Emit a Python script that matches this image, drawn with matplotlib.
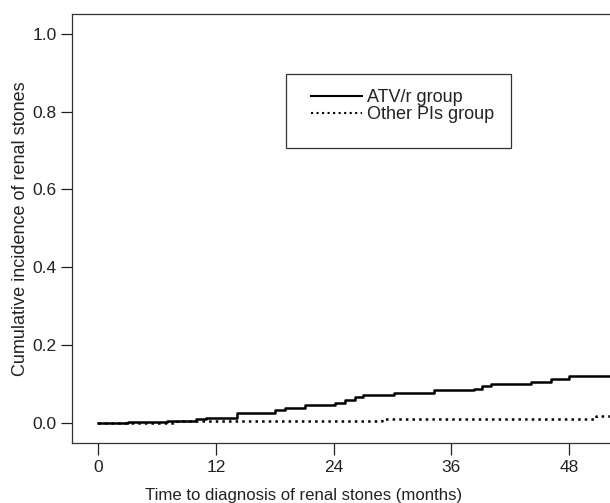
import matplotlib
matplotlib.use("Agg")
import matplotlib.pyplot as plt
from matplotlib.patches import Rectangle

plt.rcParams['font.family'] = ['Liberation Sans', 'DejaVu Sans']

# step points (months, cumulative incidence)
atv_t = [0, 3, 7, 10, 11, 14.1, 18, 19, 21.1, 24.1, 25.2, 26.2, 27, 30.1,
         34.2, 38.3, 39.1, 40, 44.1, 46.1, 48, 53]
atv_y = [0, 0.002, 0.004, 0.008, 0.012, 0.024, 0.031, 0.037, 0.044, 0.050,
         0.057, 0.067, 0.071, 0.0755, 0.0825, 0.0876, 0.0936, 0.098, 0.104,
         0.111, 0.119, 0.119]
oth_t = [0, 8, 28.9, 50.7, 53]
oth_y = [0, 0.003, 0.0095, 0.018, 0.018]

xticks = [0, 12, 24, 36, 48]
yticks = [0.0, 0.2, 0.4, 0.6, 0.8, 1.0]

ink = '#222222'

fig = plt.figure(figsize=(6.1, 5.03), dpi=100)
ax = fig.add_axes([0.1175, 0.119, 0.8825, 0.853])

ax.step(atv_t, atv_y, where='post', color='black', lw=1.8, label='ATV/r group')
ax.step(oth_t, oth_y, where='post', color='black', lw=1.8, ls=':',
        label='Other PIs group')

ax.set_xlim(-2.71, 52.16)
ax.set_ylim(-0.053, 1.051)
ax.set_xticks(xticks)
ax.set_yticks(yticks)
ax.set_yticklabels(['%.1f' % v for v in yticks])
ax.tick_params(axis='both', direction='out', labelsize=12.5, colors=ink)
ax.tick_params(axis='x', length=8.6, width=0.9, pad=3.6)
ax.tick_params(axis='y', length=8, width=0.9, pad=2.9)

for s in ['left', 'bottom', 'top']:
    ax.spines[s].set_color('#333333')
    ax.spines[s].set_linewidth(0.9)
ax.spines['right'].set_visible(False)

ax.set_xlabel('Time to diagnosis of renal stones (months)', fontsize=12.1,
              color=ink, labelpad=9)
ax.xaxis.label.set_x(0.431)
ax.set_ylabel('Cumulative incidence of renal stones', fontsize=13,
              color=ink, labelpad=2.4)

# legend box drawn separately so its padding matches the original
ax.add_patch(Rectangle((0.398, 0.689), 0.418, 0.171, transform=ax.transAxes,
                       fill=False, edgecolor='#333333', lw=0.9))
leg = ax.legend(loc='upper left', bbox_to_anchor=(0.444, 0.825), fontsize=13,
                frameon=False, handlelength=2.85, handletextpad=0.25,
                borderpad=0, labelspacing=0.0, borderaxespad=0)
for t in leg.get_texts():
    t.set_color(ink)
for h in leg.get_lines():
    h.set_linewidth(1.5)

fig.savefig('out.png', dpi=100)
